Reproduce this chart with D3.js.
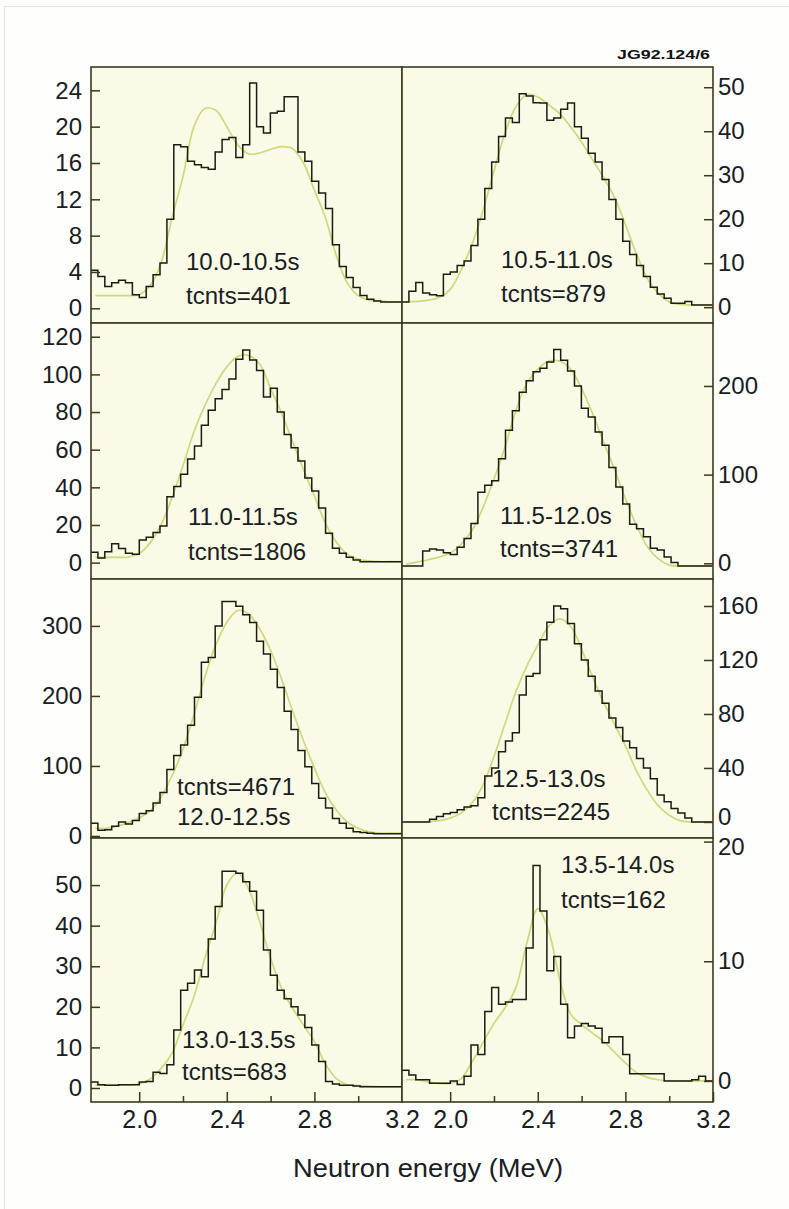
<!DOCTYPE html>
<html>
<head>
<meta charset="utf-8">
<script src="https://cdn.jsdelivr.net/npm/d3@7"></script>
<style>
  body { margin: 0; background: #fefefc; }
  svg text { font-family: "Liberation Sans", Arial, Helvetica, sans-serif; }
</style>
</head>
<body>
<svg id="chart" width="789" height="1209"></svg>
<script>
// energy axis (MeV)
var xTicks = [2.0, 2.4, 2.8, 3.2];
var xMinor = [2.2, 2.6, 3.0];
var binLo = 1.78, binStep = 0.0315, eMax = 3.2;

// energies where the fitted curves were read
var fitE = [1.80, 1.85, 1.90, 1.95, 2.00, 2.05, 2.10, 2.15, 2.20, 2.25, 2.30, 2.35, 2.40, 2.45, 2.50,
            2.55, 2.60, 2.65, 2.70, 2.75, 2.80, 2.85, 2.90, 2.95, 3.00, 3.05, 3.10, 3.15, 3.20];

var times = ["10.0-10.5s", "10.5-11.0s", "11.0-11.5s", "11.5-12.0s",
             "12.0-12.5s", "12.5-13.0s", "13.0-13.5s", "13.5-14.0s"];
var tcnts = [401, 879, 1806, 3741, 4671, 2245, 683, 162];
var countsFirst = [0, 0, 0, 0, 1, 0, 0, 0];

var yTicks = [
  [0, 4, 8, 12, 16, 20, 24],
  [0, 10, 20, 30, 40, 50],
  [0, 20, 40, 60, 80, 100, 120],
  [0, 100, 200],
  [0, 100, 200, 300],
  [0, 40, 80, 120, 160],
  [0, 10, 20, 30, 40, 50],
  [0, 10, 20]
];

// histogram counts, one value per energy bin
var hist1 = [4.2, 3.5, 2.4, 2.8, 3.1, 2.8, 1.5, 1.2, 2.4, 3.7, 5.0, 9.8, 18.0, 17.8, 16.2, 15.8, 15.5, 15.3, 17.2, 18.6,
             18.8, 16.6, 18.0, 24.8, 20.0, 19.3, 21.5, 21.7, 23.3, 23.3, 17.2, 16.2, 14.0, 12.7, 11.0, 7.0, 4.6, 3.4, 2.3, 1.4,
             1.0, 0.8, 0.7, 0.7, 0.7];
var hist2 = [1.2, 3.6, 5.6, 3.2, 2.8, 2.6, 7.5, 8.0, 9.5, 10.5, 14.0, 20.0, 27.0, 33.0, 38.8, 43.0, 42.0, 48.5, 48.0, 46.5,
             46.4, 42.5, 43.0, 45.0, 46.4, 41.0, 38.4, 35.0, 33.0, 29.0, 24.5, 20.0, 15.0, 12.0, 9.5, 7.0, 4.5, 3.0, 2.0, 0.9,
             0.9, 1.3, 0.5, 0.5, 0.5];
var hist3 = [5.5, 2.5, 5.8, 10.0, 7.5, 5.0, 4.5, 12.0, 13.5, 16.0, 19.5, 35.0, 40.5, 47.0, 55.0, 62.0, 73.0, 81.0, 87.0, 92.0,
             97.5, 108.0, 113.0, 107.6, 102.0, 88.0, 92.6, 80.0, 68.0, 61.0, 54.0, 45.0, 38.0, 29.0, 15.6, 7.6, 5.0, 2.8, 1.4, 0.5,
             0.5, 0.5, 0.5, 0.5, 0.5];
var hist4 = [-3, -3, -3, 14, 16, 15, 12, 10, 18, 28, 45, 80, 88, 93, 118, 150, 172, 193, 206, 216,
             220, 227, 241, 229, 217, 200, 175, 165, 148, 133, 108, 86, 67, 44, 39, 30, 17, 15, 7, 1,
             -3, -3, -3, -3, -3];
var hist5 = [18, 8, 9, 14, 20, 17, 22, 32, 36, 47, 62, 95, 115, 130, 158, 198, 248, 255, 300, 335,
             335, 328, 316, 305, 278, 260, 238, 212, 178, 152, 122, 99, 75, 54, 40, 25, 18, 11, 6, 5,
             4, 3, 3, 3, 3];
var hist6 = [0, 0, 0, 0, 2, 4, 6, 7, 9, 11, 12, 18, 34, 40, 52, 60, 66, 94, 108, 110,
             135, 148, 160, 158, 147, 132, 120, 108, 97, 88, 77, 70, 60, 55, 47, 40, 32, 20, 15, 10,
             6.6, 3, 0, 0, 0];
var hist7 = [1.5, 0.8, 0.7, 0.7, 0.8, 0.8, 0.8, 1.5, 1.6, 3.9, 3.6, 5.7, 14.3, 24.1, 25.8, 29.1, 27.4, 36.7, 44.7, 53.4,
             53.4, 52.9, 50.8, 48.5, 43.8, 34.0, 27.8, 24.1, 22.0, 20.0, 18.0, 14.9, 10.6, 6.5, 1.6, 1.0, 0.7, 0.7, 0.5, 0.3,
             0.3, 0.3, 0.3, 0.3, 0.3];
var hist8 = [0.9, 0.5, 0.1, 0.1, -0.2, -0.2, -0.2, 0, -0.3, 0.4, 3.0, 2.2, 5.8, 7.8, 6.4, 6.6, 6.8, 6.8, 11.1, 18.0,
             14.2, 9.2, 10.4, 6.4, 3.6, 4.6, 4.8, 4.6, 4.4, 3.2, 3.7, 3.7, 2.2, 0.6, 0.6, 0.6, 0.6, 0.6, 0, 0,
             0, 0, 0.1, 0.4, 0];

// fitted curves, read at fitE
var fit1 = [1.4, 1.4, 1.4, 1.4, 1.5, 2.5, 5.0, 10.0, 14.5, 20.0, 22.0, 21.8, 20.0, 18.0, 17.0,
            17.1, 17.5, 17.8, 17.6, 16.0, 13.0, 10.0, 5.8, 2.8, 1.4, 0.9, 0.8, 0.7, 0.7];
var fit2 = [1.2, 1.3, 1.6, 2.2, 4.0, 8.5, 14.3, 22.0, 31.0, 39.5, 45.6, 48.3, 47.8, 46.0, 44.0,
            41.0, 37.5, 33.5, 29.5, 25.0, 18.8, 12.2, 6.5, 3.2, 1.2, 0.6, 0.5, 0.5, 0.5];
var fit3 = [2.8, 2.8, 2.8, 2.9, 4.8, 10.5, 20.0, 34.5, 51.5, 69.5, 83.5, 95.0, 104.0, 109.5, 110.0,
            105.5, 92.5, 79.5, 64.5, 49.5, 35.5, 21.0, 11.0, 4.5, 1.9, 0.9, 0.5, 0.5, 0.5];
var fit4 = [-1, 1.5, 4, 7, 11.5, 21.5, 37, 63, 95, 131, 172, 203, 219, 228, 228,
            219, 197, 169, 137, 106, 73, 43, 19, 5, -2, -3, -3, -3, -3];
var fit5 = [11, 11, 14, 19, 26, 36, 56, 86, 124, 173, 227, 273, 305, 322, 317,
            296, 265, 224, 179, 136, 97, 62, 37, 20, 11, 6, 4, 4, 4];
var fit6 = [0, 0, 0.2, 1, 2.8, 6.5, 14, 27.5, 48.5, 72.5, 96.5, 115.5, 131, 145, 150.5,
            145, 128, 107.5, 89, 72.5, 56.5, 38, 23.5, 12, 5, 1, 0, 0, 0];
var fit7 = [0.7, 0.7, 0.7, 0.7, 1.0, 2.2, 4.8, 8.6, 15.5, 22.5, 32, 40.5, 50, 53, 49,
            41, 32, 24.6, 19.7, 15.5, 11.5, 6.0, 2.3, 0.8, 0.6, 0.4, 0.3, 0.3, 0.3];
var fit8 = [0.1, 0.1, -0.1, -0.2, -0.2, 0.2, 1.6, 3.2, 4.8, 6.1, 7.8, 11.5, 14.4, 12.5, 8.5,
            5.6, 4.7, 4.0, 3.3, 2.4, 1.5, 0.7, 0.3, 0.1, 0, 0, 0, 0, 0];

var hists = [hist1, hist2, hist3, hist4, hist5, hist6, hist7, hist8];
var fits = [fit1, fit2, fit3, fit4, fit5, fit6, fit7, fit8];

// layout
var colX = [91, 402], panelW = 311;
var rowY = [67, 323, 579, 838, 1102];
var yDomains = [[-1.62, 26.57], [-3.6, 54.6], [-8.7, 127.3], [-17.7, 271],
                [-2.9, 367], [-11.9, 180], [-3.45, 61.6], [-1.76, 20.3]];
var labelPos = [[95, 203, 237], [99, 201, 235], [97, 202, 237], [98, 201, 234],
                [86, 216, 246], [90, 208, 241], [91, 210, 242], [159, 35, 70]];

var frameCol = "#3a3a20", textCol = "#18201f", histCol = "#1c1c10", fitCol = "#d0d87c";
var fontF = '"Liberation Sans", Arial, Helvetica, sans-serif';

var svg = d3.select("#chart");

// faint scan border
svg.append("rect").attr("x", 4.5).attr("y", 6.5).attr("width", 800).attr("height", 1220)
  .attr("fill", "none").attr("stroke", "#e4e4e4");

hists.forEach(function(h, i) {
  var col = i % 2, row = Math.floor(i / 2);
  var x0 = colX[col], x1 = x0 + panelW, y0 = rowY[row], y1 = rowY[row + 1];
  var x = d3.scaleLinear().domain([binLo, eMax]).range([x0, x1]);
  var y = d3.scaleLinear().domain(yDomains[i]).range([y1, y0]);
  var g = svg.append("g");

  g.append("rect").attr("x", x0).attr("y", y0).attr("width", panelW).attr("height", y1 - y0)
    .attr("fill", "#fafae6");

  var cid = "clip" + i;
  svg.append("clipPath").attr("id", cid).append("rect")
    .attr("x", x0).attr("y", y0).attr("width", panelW).attr("height", y1 - y0);

  // fitted curve
  var fitLine = d3.line().x(function(d) { return x(d[0]); }).y(function(d) { return y(d[1]); })
    .curve(d3.curveCatmullRom.alpha(0.5));
  g.append("path")
    .datum(fitE.map(function(e, k) { return [e, fits[i][k]]; }))
    .attr("d", fitLine).attr("fill", "none").attr("stroke", fitCol).attr("stroke-width", 1.7)
    .attr("clip-path", "url(#" + cid + ")");

  // histogram
  var pts = h.map(function(v, k) { return [binLo + k * binStep, v]; });
  pts.push([binLo + h.length * binStep, h[h.length - 1]]);
  var stepLine = d3.line().x(function(d) { return x(d[0]); }).y(function(d) { return y(d[1]); })
    .curve(d3.curveStepAfter);
  g.append("path").datum(pts).attr("d", stepLine).attr("fill", "none")
    .attr("stroke", histCol).attr("stroke-width", 1.5).attr("clip-path", "url(#" + cid + ")");

  // frame
  g.append("rect").attr("x", x0).attr("y", y0).attr("width", panelW).attr("height", y1 - y0)
    .attr("fill", "none").attr("stroke", frameCol).attr("stroke-width", 1.6);

  // y axis: left column on the left, right column on the right
  var ax = (col == 0 ? d3.axisLeft(y) : d3.axisRight(y))
    .tickValues(yTicks[i]).tickSize(-9).tickPadding(col == 0 ? 9 : 5).tickFormat(d3.format("d"));
  var ga = g.append("g").attr("transform", "translate(" + (col == 0 ? x0 : x1) + ",0)").call(ax);
  ga.select(".domain").remove();
  ga.selectAll("line").attr("stroke", frameCol).attr("stroke-width", 1.5);
  ga.selectAll("text").attr("fill", textCol).attr("font-size", 24).attr("font-family", fontF);
  // the "0" of panel 6 and the "20" of panel 8 sit against each other: pull them apart a little
  if (i == 5) {
    ga.selectAll("text").filter(function(d) { return d == 0; }).attr("dy", "0.12em");
  }
  if (i == 7) {
    ga.selectAll("text").filter(function(d) { return d == 20; }).attr("dy", "0.55em");
  }

  // energy axis on the bottom row
  if (row == 3) {
    var bx = d3.axisBottom(x).tickValues(xTicks).tickSize(-10).tickPadding(8)
      .tickFormat(d3.format(".1f"));
    var gb = g.append("g").attr("transform", "translate(0," + y1 + ")").call(bx);
    gb.select(".domain").remove();
    gb.selectAll("line").attr("stroke", frameCol).attr("stroke-width", 1.5);
    gb.selectAll("text").attr("fill", textCol).attr("font-size", 25).attr("font-family", fontF);

    var mx = d3.axisBottom(x).tickValues(xMinor).tickSize(-6).tickFormat("");
    var gm = g.append("g").attr("transform", "translate(0," + y1 + ")").call(mx);
    gm.select(".domain").remove();
    gm.selectAll("line").attr("stroke", frameCol).attr("stroke-width", 1.5);
  }

  // time window and total counts
  var lines = countsFirst[i] ? ["tcnts=" + tcnts[i], times[i]] : [times[i], "tcnts=" + tcnts[i]];
  var lp = labelPos[i];
  lines.forEach(function(t, k) {
    g.append("text").attr("x", x0 + lp[0]).attr("y", y0 + lp[1 + k])
      .attr("font-size", 24).attr("fill", textCol).text(t);
  });
});

// axis title
svg.append("text").attr("x", 428).attr("y", 1177).attr("text-anchor", "middle")
  .attr("font-size", 25).attr("fill", textCol)
  .attr("textLength", 270).attr("lengthAdjust", "spacingAndGlyphs")
  .text("Neutron energy (MeV)");

// figure reference
svg.append("text").attr("x", 710).attr("y", 59).attr("text-anchor", "end")
  .attr("font-size", 13).attr("font-weight", "bold").attr("fill", "#111")
  .attr("textLength", 93).attr("lengthAdjust", "spacingAndGlyphs")
  .text("JG92.124/6");
</script>
</body>
</html>
